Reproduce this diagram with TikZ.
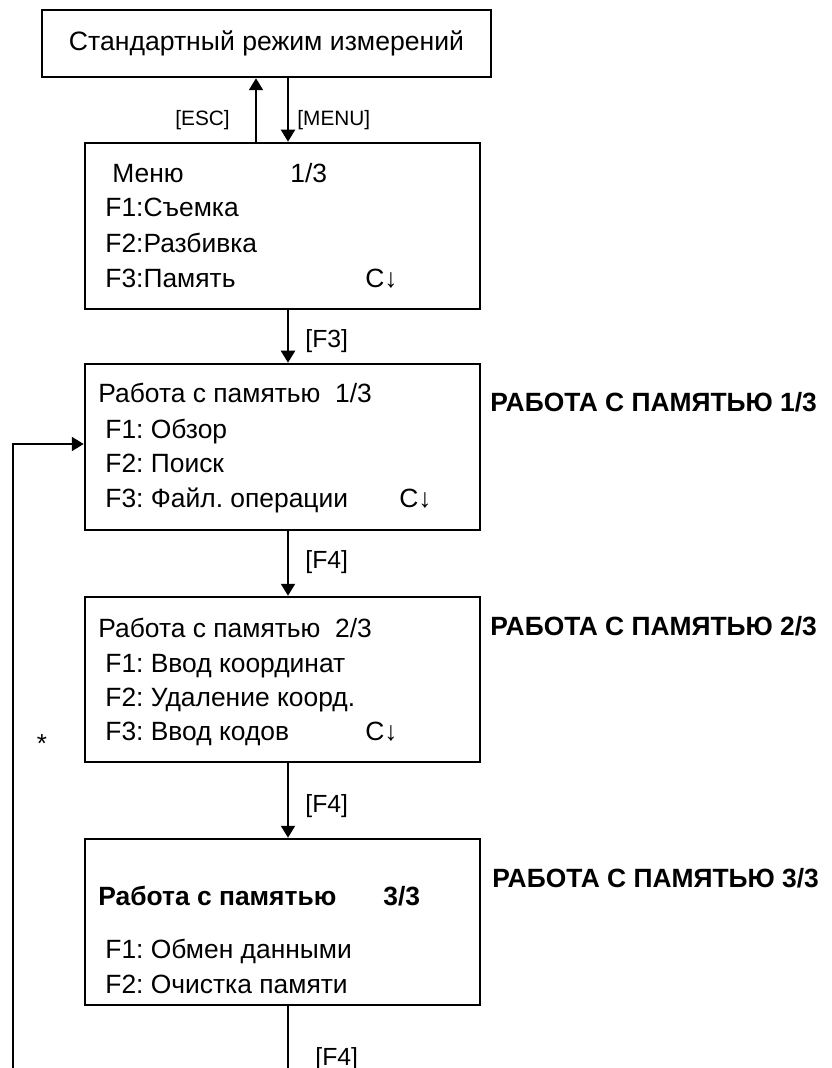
\documentclass[tikz,border=0pt]{standalone}
\usepackage{fontspec}
\setmainfont{Liberation Sans}
\usetikzlibrary{arrows.meta}
\frenchspacing
\begin{document}
\begin{tikzpicture}[x=0.5pt,y=-0.5pt,
  box/.style={draw,line width=1.25pt,inner sep=0pt,minimum width=197.5pt},
  txt/.style={anchor=base west,inner sep=0pt,font=\fontsize{13.2pt}{15pt}\selectfont},
  btxt/.style={txt,font=\fontsize{13.2pt}{15pt}\selectfont\bfseries},
  keylab/.style={anchor=base west,inner sep=0pt,font=\fontsize{12.4pt}{14pt}\selectfont},
  smalllab/.style={anchor=base west,inner sep=0pt,font=\fontsize{10.4pt}{12pt}\selectfont},
  arr/.style={line width=1pt,-{Triangle[width=7pt,length=6pt]}},
  ln/.style={line width=1pt}]
\useasboundingbox (0,0) rectangle (831,1068);
% boxes
\node[box,minimum width=224.5pt,minimum height=33.5pt,font=\fontsize{13.3pt}{15pt}\selectfont] (top) at (266.5,43.5) {Стандартный режим измерений};
\node[box,minimum height=83pt] (menu) at (282.5,226) {};
\node[box,minimum height=83pt] (m1) at (282.5,447) {};
\node[box,minimum height=82.5pt] (m2) at (282.5,679.5) {};
\node[box,minimum height=83pt] (m3) at (282.5,922) {};
% menu texts
\node[txt] (t01) at (112,183) {Меню};
\node[txt] (t02) at (290,183) {1/3};
\node[txt] (t03) at (105,217) {F1:Съемка};
\node[txt] (t04) at (105,253) {F2:Разбивка};
\node[txt] (t05) at (105,288) {F3:Память};
\node[txt] (t06) at (365,288) {C↓};
% m1 texts
\node[txt] (t11) at (98,403) {Работа с памятью\ \ 1/3};
\node[txt] (t12) at (105,438) {F1: Обзор};
\node[txt] (t13) at (105,473) {F2: Поиск};
\node[txt] (t14) at (105,507) {F3: Файл. операции};
\node[txt] (t15) at (399,507) {C↓};
% m2 texts
\node[txt] (t21) at (98,637) {Работа с памятью\ \ 2/3};
\node[txt] (t22) at (105,672) {F1: Ввод координат};
\node[txt] (t23) at (105,706) {F2: Удаление коорд.};
\node[txt] (t24) at (105,740) {F3: Ввод кодов};
\node[txt] (t25) at (365,740) {C↓};
% m3 texts
\node[btxt] (t31) at (98,905) {Работа с памятью};
\node[btxt] (t32) at (383,905) {3/3};
\node[txt] (t33) at (105,958) {F1: Обмен данными};
\node[txt] (t34) at (105,993) {F2: Очистка памяти};
% right labels
\node[btxt] (r1) at (490,412) {РАБОТА С ПАМЯТЬЮ 1/3};
\node[btxt] (r2) at (490,635) {РАБОТА С ПАМЯТЬЮ 2/3};
\node[btxt] (r3) at (492,887) {РАБОТА С ПАМЯТЬЮ 3/3};
% connectors
\coordinate (escx) at (256,0);
\coordinate (ax) at (288,0);
\draw[arr] (escx |- menu.north) -- (escx |- top.south);
\draw[arr] (ax |- top.south) -- (ax |- menu.north);
\draw[arr] (ax |- menu.south) -- (ax |- m1.north);
\draw[arr] (ax |- m1.south) -- (ax |- m2.north);
\draw[arr] (ax |- m2.south) -- (ax |- m3.north);
\coordinate (botend) at (288,1068);
\draw[ln] (botend |- m3.south) -- (botend);
\coordinate (loopbot) at (13,1068);
\draw[arr] (loopbot) |- ([yshift=1.5pt]m1.west);
% key labels
\node[smalllab] (esc) at (175,126) {[ESC]};
\node[smalllab] (menuk) at (297,126) {[MENU]};
\node[keylab] (f3) at (305,348) {[F3]};
\node[keylab] (f4a) at (305,568) {[F4]};
\node[keylab] (f4b) at (305,812) {[F4]};
\node[keylab] (f4c) at (315,1065) {[F4]};
\node[anchor=base,inner sep=0pt,font=\fontsize{13pt}{15pt}\selectfont] (star) at (42,752) {*};
\end{tikzpicture}
\end{document}
